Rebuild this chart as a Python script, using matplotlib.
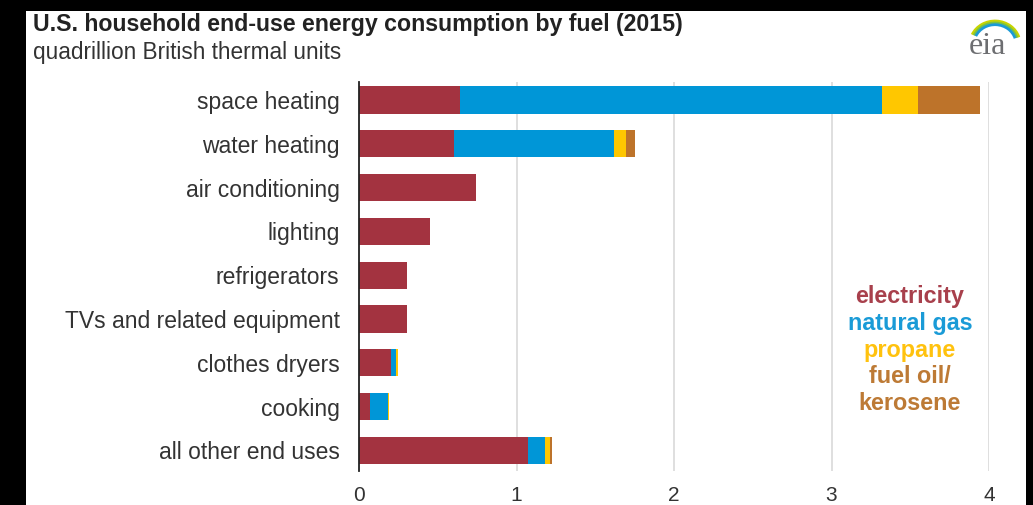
import matplotlib

matplotlib.use("Agg")
import matplotlib.pyplot as plt
from matplotlib.patches import Rectangle, Arc
import numpy as np

# household end-use consumption, quadrillion Btu (2015)
end_uses = ["space heating", "water heating", "air conditioning", "lighting",
            "refrigerators", "TVs and related equipment", "clothes dryers",
            "cooking", "all other end uses"]
electricity = [0.64, 0.60, 0.74, 0.45, 0.305, 0.305, 0.205, 0.07, 1.07]
natural_gas = [2.68, 1.02, 0.0, 0.0, 0.0, 0.0, 0.033, 0.113, 0.11]
propane = [0.23, 0.075, 0.0, 0.0, 0.0, 0.0, 0.011, 0.008, 0.033]
fuel_oil = [0.39, 0.055, 0.0, 0.0, 0.0, 0.0, 0.0, 0.0, 0.012]
x_ticks = [0, 1, 2, 3, 4]

# (legend lines, values, bar colour, text colour)
series = [
    (["electricity"], electricity, "#a33340", "#a8404c"),
    (["natural gas"], natural_gas, "#0096d7", "#1a9bd7"),
    (["propane"], propane, "#ffc700", "#ffc20e"),
    (["fuel oil/", "kerosene"], fuel_oil, "#bd732a", "#bd7a35"),
]

plt.rcParams["font.family"] = ["Liberation Sans", "DejaVu Sans"]
W, H = 1033, 505
fig = plt.figure(figsize=(W / 100, H / 100), dpi=100, facecolor="black")
# white card inside the black frame
fig.patches.append(Rectangle((26 / W, 0), 1000 / W, 1 - 11 / H,
                             transform=fig.transFigure, facecolor="white",
                             edgecolor="none", zorder=-10))

ax = fig.add_axes([359 / W, 1 - 471 / H, 630 / W, 389 / H])
ax.set_facecolor("none")
y = np.arange(len(end_uses))
left = np.zeros(len(end_uses))
for _, vals, color, _ in series:
    vals = np.array(vals)
    ax.barh(y, vals, left=left, height=0.62, color=color, linewidth=0, zorder=3)
    left += vals

ax.set_xlim(0, 4)
ax.set_ylim(8.47, -0.41)
ax.set_xticks(x_ticks)
ax.set_yticks(y)
ax.set_yticklabels(end_uses)
ax.tick_params(axis="y", length=0, pad=14, labelsize=16.5, labelcolor="#333333")
ax.tick_params(axis="x", length=0, pad=11, labelsize=15, labelcolor="#333333")
for s in ["top", "right", "bottom"]:
    ax.spines[s].set_visible(False)
ax.spines["left"].set_color("#222222")
ax.spines["left"].set_linewidth(1.3)
ax.spines["left"].set_zorder(4)
ax.grid(axis="x", color="#d9d9d9", linewidth=1.2, zorder=0)

# coloured legend text, one line each
row = 0
for lines, _, _, tcolor in series:
    for line in lines:
        fig.text(910 / W, 1 - (297 + 26.5 * row) / H, line, color=tcolor,
                 fontsize=16.8, fontweight="bold", ha="center", va="center")
        row += 1

fig.text(33 / W, 1 - 25 / H, "U.S. household end-use energy consumption by fuel (2015)",
         fontsize=16.7, fontweight="bold", color="#222222", va="center")
fig.text(33 / W, 1 - 52 / H, "quadrillion British thermal units",
         fontsize=16.3, color="#333333", va="center")

# eia mark
fig.text(987 / W, 1 - 47 / H, "eia", fontsize=23, color="#6d6e71",
         family="Liberation Serif", ha="center", va="center")
for r, c, lw in [(1.0, "#c8d400", 2.0), (0.92, "#7ac143", 1.8), (0.84, "#1b9ad6", 2.0)]:
    fig.patches.append(Arc((995 / W, 1 - 44 / H), 50 / W * r, 46 / H * r,
                           theta1=30, theta2=140, color=c, linewidth=lw,
                           transform=fig.transFigure))

fig.savefig("out.png", dpi=100, facecolor="black")
